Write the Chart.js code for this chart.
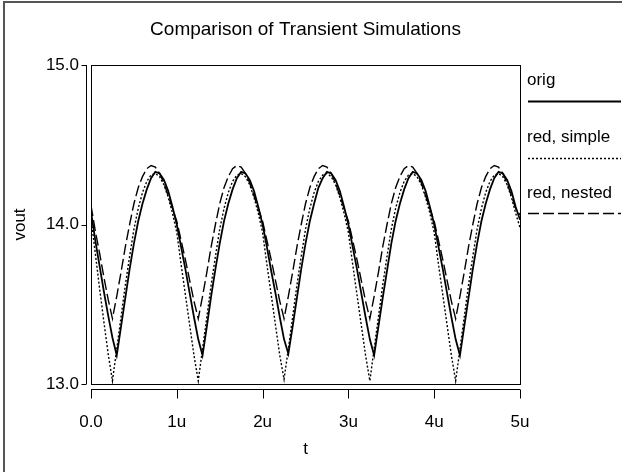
<!DOCTYPE html>
<html>
<head>
<meta charset="utf-8">
<script src="https://cdn.jsdelivr.net/npm/chart.js@4"></script>
<style>
  html, body { margin: 0; padding: 0; background: #fff; }
  #wrap { width: 622px; height: 472px; }
</style>
</head>
<body>
<div id="wrap"><canvas id="c" width="622" height="472"></canvas></div>
<script>
// time in microseconds
var tUs = [
  0.00,0.05,0.10,0.15,0.20,0.25,0.30,0.35,0.40,0.45,0.50,0.55,0.60,0.65,0.70,0.75,0.80,0.85,0.90,0.95,
  1.00,1.05,1.10,1.15,1.20,1.25,1.30,1.35,1.40,1.45,1.50,1.55,1.60,1.65,1.70,1.75,1.80,1.85,1.90,1.95,
  2.00,2.05,2.10,2.15,2.20,2.25,2.30,2.35,2.40,2.45,2.50,2.55,2.60,2.65,2.70,2.75,2.80,2.85,2.90,2.95,
  3.00,3.05,3.10,3.15,3.20,3.25,3.30,3.35,3.40,3.45,3.50,3.55,3.60,3.65,3.70,3.75,3.80,3.85,3.90,3.95,
  4.00,4.05,4.10,4.15,4.20,4.25,4.30,4.35,4.40,4.45,4.50,4.55,4.60,4.65,4.70,4.75,4.80,4.85,4.90,4.95,
  5.00
];
var voutOrig = [
  14.08,13.90,13.74,13.58,13.43,13.29,13.18,13.36,13.54,13.72,13.88,14.02,14.13,14.22,14.29,14.33,14.32,14.28,14.21,14.11,
  14.00,13.86,13.72,13.57,13.42,13.28,13.18,13.36,13.55,13.72,13.88,14.02,14.13,14.22,14.29,14.33,14.32,14.28,14.21,14.11,
  14.00,13.86,13.71,13.57,13.42,13.28,13.19,13.36,13.54,13.72,13.88,14.02,14.13,14.23,14.29,14.33,14.32,14.28,14.21,14.11,
  14.00,13.86,13.72,13.57,13.42,13.28,13.18,13.36,13.54,13.71,13.88,14.02,14.13,14.22,14.29,14.33,14.32,14.28,14.21,14.11,
  14.00,13.86,13.72,13.57,13.42,13.28,13.18,13.36,13.54,13.72,13.88,14.02,14.13,14.22,14.29,14.33,14.32,14.28,14.21,14.11,
  14.03
];
var voutSimple = [
  14.04,13.82,13.60,13.39,13.19,13.02,13.22,13.42,13.62,13.80,13.97,14.10,14.20,14.27,14.31,14.32,14.30,14.25,14.17,14.07,
  13.95,13.75,13.56,13.37,13.18,13.02,13.22,13.42,13.62,13.80,13.97,14.10,14.20,14.27,14.31,14.32,14.30,14.25,14.17,14.07,
  13.95,13.75,13.56,13.37,13.18,13.03,13.22,13.42,13.62,13.80,13.97,14.10,14.20,14.27,14.31,14.32,14.30,14.25,14.17,14.07,
  13.95,13.75,13.56,13.37,13.18,13.02,13.22,13.42,13.62,13.80,13.97,14.10,14.20,14.27,14.31,14.32,14.30,14.25,14.17,14.07,
  13.95,13.75,13.56,13.37,13.18,13.02,13.22,13.42,13.62,13.80,13.97,14.10,14.20,14.27,14.31,14.32,14.30,14.25,14.17,14.07,
  13.98
];
var voutNested = [
  14.12,13.96,13.82,13.67,13.53,13.41,13.55,13.70,13.86,14.00,14.13,14.23,14.30,14.35,14.37,14.36,14.32,14.26,14.18,14.10,
  14.02,13.90,13.78,13.65,13.52,13.41,13.55,13.70,13.86,14.00,14.13,14.23,14.30,14.35,14.37,14.36,14.32,14.26,14.18,14.10,
  14.02,13.90,13.78,13.65,13.52,13.41,13.55,13.70,13.86,14.00,14.13,14.23,14.30,14.35,14.37,14.36,14.32,14.26,14.18,14.10,
  14.02,13.90,13.78,13.65,13.52,13.41,13.55,13.70,13.86,14.00,14.13,14.23,14.30,14.35,14.37,14.36,14.32,14.26,14.18,14.10,
  14.02,13.90,13.78,13.65,13.52,13.41,13.55,13.70,13.86,14.00,14.13,14.23,14.30,14.35,14.37,14.36,14.32,14.26,14.18,14.10,
  14.06
];
var seriesNames = ['orig', 'red, simple', 'red, nested'];
var xTicks = [0, 1, 2, 3, 4, 5];
var xTickLabels = ['0.0', '1u', '2u', '3u', '4u', '5u'];
var yTicks = [13, 14, 15];
var yTickLabels = ['13.0', '14.0', '15.0'];
var chartTitle = 'Comparison of Transient Simulations';

var FONT = 'Liberation Sans, Arial, sans-serif';
var dashes = [[], [2, 2], [11, 4]];
var widths = [1.8, 1.4, 1.4];

function pts(ys) {
  var out = [];
  for (var i = 0; i < tUs.length; i++) out.push({x: tUs[i], y: ys[i]});
  return out;
}

var allSeries = [voutOrig, voutSimple, voutNested];
var datasets = [];
for (var k = 0; k < allSeries.length; k++) {
  datasets.push({
    label: seriesNames[k],
    data: pts(allSeries[k]),
    borderColor: '#000',
    borderWidth: widths[k],
    borderDash: dashes[k],
    pointRadius: 0,
    fill: false,
    tension: 0
  });
}

// title over the plot box, frame, detached axes and the side legend
var decor = {
  id: 'decor',
  afterDraw: function(chart) {
    var ctx = chart.ctx;
    var a = chart.chartArea;
    var xs = chart.scales.x, ys = chart.scales.y;
    ctx.save();
    // outer frame (left + top only)
    ctx.strokeStyle = '#555';
    ctx.lineWidth = 2;
    ctx.beginPath();
    ctx.moveTo(4, 472); ctx.lineTo(4, 2); ctx.lineTo(622, 2);
    ctx.stroke();

    ctx.fillStyle = '#000';
    ctx.font = '19px ' + FONT;
    ctx.textAlign = 'center';
    ctx.textBaseline = 'middle';
    ctx.fillText(chartTitle, (a.left + a.right) / 2, 30);

    ctx.strokeStyle = '#000';
    ctx.lineWidth = 1;
    ctx.strokeRect(Math.round(a.left) + 0.5, Math.round(a.top) + 0.5,
                   Math.round(a.right - a.left), Math.round(a.bottom - a.top));

    // y axis
    var yx = Math.round(a.left) - 4.5;
    ctx.beginPath();
    ctx.moveTo(yx, ys.getPixelForValue(15)); ctx.lineTo(yx, ys.getPixelForValue(13));
    for (var i = 0; i < yTicks.length; i++) {
      var py = Math.round(ys.getPixelForValue(yTicks[i])) + 0.5;
      ctx.moveTo(yx, py); ctx.lineTo(yx - 5, py);
    }
    ctx.stroke();
    // x axis
    var xy = Math.round(a.bottom) + 5.5;
    ctx.beginPath();
    ctx.moveTo(xs.getPixelForValue(0), xy); ctx.lineTo(xs.getPixelForValue(5), xy);
    for (var j = 0; j < xTicks.length; j++) {
      var px = Math.round(xs.getPixelForValue(xTicks[j])) + 0.5;
      ctx.moveTo(px, xy); ctx.lineTo(px, xy + 9);
    }
    ctx.stroke();

    // legend
    var lx = a.right + 7;
    var textY = [80, 137, 193];
    var lineY = [101.5, 158.5, 213.5];
    ctx.font = '17px ' + FONT;
    ctx.textAlign = 'left';
    for (var k = 0; k < seriesNames.length; k++) {
      ctx.fillText(seriesNames[k], lx, textY[k]);
      ctx.setLineDash(dashes[k]);
      ctx.lineWidth = widths[k];
      ctx.beginPath();
      ctx.moveTo(lx + 1, lineY[k]); ctx.lineTo(621, lineY[k]);
      ctx.stroke();
    }
    ctx.restore();
  }
};

new Chart(document.getElementById('c'), {
  type: 'line',
  data: { datasets: datasets },
  options: {
    responsive: false,
    animation: false,
    layout: { padding: { left: 0, right: 102, top: 65, bottom: 0 } },
    plugins: {
      legend: { display: false },
      tooltip: { enabled: false },
      title: { display: false }
    },
    scales: {
      x: {
        type: 'linear', min: 0, max: 5,
        afterBuildTicks: function(s) { s.ticks = xTicks.map(function(v) { return {value: v}; }); },
        afterFit: function(s) { s.height = 88; },
        ticks: {
          color: '#000', font: { family: FONT, size: 17 }, padding: 28, maxRotation: 0,
          callback: function(v) { return xTickLabels[xTicks.indexOf(v)]; }
        },
        grid: { display: false, drawTicks: false },
        border: { display: false },
        title: { display: true, text: 't', color: '#000', font: { family: FONT, size: 17 }, padding: { top: 0, bottom: 12 } }
      },
      y: {
        min: 13, max: 15,
        afterBuildTicks: function(s) { s.ticks = yTicks.map(function(v) { return {value: v}; }); },
        afterFit: function(s) { s.width = 91; },
        ticks: {
          color: '#000', font: { family: FONT, size: 17 }, padding: 12,
          callback: function(v) { return yTickLabels[yTicks.indexOf(v)]; }
        },
        grid: { display: false, drawTicks: false },
        border: { display: false },
        title: { display: true, text: 'vout', color: '#000', font: { family: FONT, size: 17 }, padding: { top: 10, bottom: 0 } }
      }
    }
  },
  plugins: [decor]
});
</script>
</body>
</html>
